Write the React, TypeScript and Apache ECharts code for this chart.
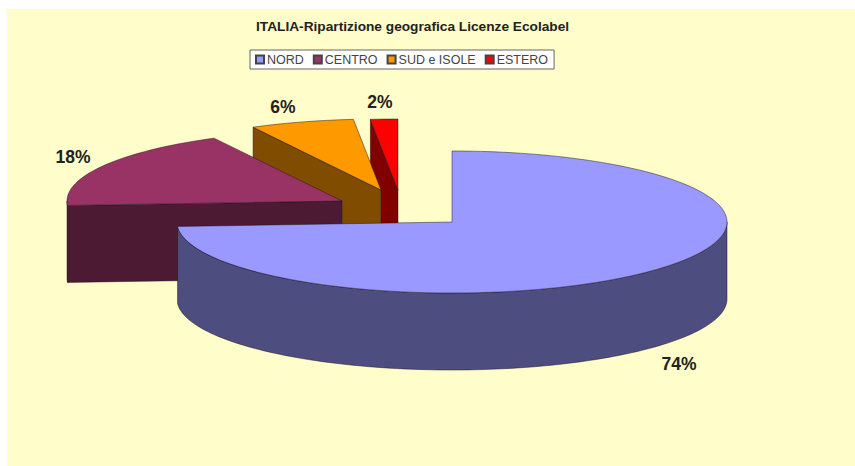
import React, { useEffect, useRef } from "react";
import * as echarts from "echarts";

const categories = ["NORD", "CENTRO", "SUD e ISOLE", "ESTERO"];
const shares = [74, 18.3, 6.1, 1.6];
const topColors = ["#9999FF", "#993366", "#FF9900", "#FF0000"];
const wallColors = ["#4D4D80", "#4D1A33", "#804D00", "#800000"];
const apexX = [452, 342, 381, 398];
const apexY = [222, 201, 190, 190];
const labelX = [679, 73, 283, 380];
const labelY = [364, 157, 107, 102];
const RX = 275;
const RY = 71;
const DEPTH = 77;
const EDGE = "rgba(30,20,30,0.6)";
const total = shares.reduce((a, b) => a + b, 0);

function startAngle(i: number) {
  let s = 0;
  for (let k = 0; k < i; k++) s += shares[k];
  return (s / total) * 360;
}

function renderSlice(index: number) {
  return () => {
    const cx = apexX[index];
    const cy = apexY[index];
    const a = startAngle(index);
    const b = a + (shares[index] / total) * 360;
    const pt = (deg: number, dz = 0): [number, number] => {
      const r = (deg * Math.PI) / 180;
      return [cx + RX * Math.sin(r), cy - RY * Math.cos(r) + dz];
    };
    const arc = (from: number, to: number, dz = 0) => {
      const out: [number, number][] = [];
      const n = Math.max(2, Math.ceil(Math.abs(to - from) / 1.5));
      for (let k = 0; k <= n; k++) out.push(pt(from + ((to - from) * k) / n, dz));
      return out;
    };
    const children: any[] = [];
    const poly = (points: [number, number][], fill: string) =>
      children.push({
        type: "polygon",
        shape: { points },
        style: { fill, stroke: EDGE, lineWidth: 0.8, lineJoin: "round" },
      });
    const sinA = Math.sin((a * Math.PI) / 180);
    const sinB = Math.sin((b * Math.PI) / 180);
    if (sinA < -1e-6) {
      poly([[cx, cy], pt(a), pt(a, DEPTH), [cx, cy + DEPTH]], wallColors[index]);
    }
    if (sinB > 1e-6) {
      poly([[cx, cy], pt(b), pt(b, DEPTH), [cx, cy + DEPTH]], wallColors[index]);
    }
    const fa = Math.max(a, 90);
    const fb = Math.min(b, 270);
    if (fb > fa) {
      poly([...arc(fa, fb), ...arc(fb, fa, DEPTH)], wallColors[index]);
    }
    poly([[cx, cy], ...arc(a, b)], topColors[index]);
    return { type: "group", children };
  };
}

export default function App() {
  const ref = useRef<HTMLDivElement>(null);
  useEffect(() => {
    document.body.style.margin = "0";
    const chart = echarts.init(ref.current!, undefined, { renderer: "svg" });
    chart.setOption({
      animation: false,
      backgroundColor: "#FFFFFF",
      title: {
        text: "ITALIA-Ripartizione geografica Licenze Ecolabel",
        left: 256,
        top: 19,
        textStyle: {
          fontFamily: "Liberation Sans",
          fontSize: 13.7,
          fontWeight: "bold",
          color: "#222222",
        },
        padding: 0,
      },
      legend: {
        left: 250,
        top: 50,
        data: categories,
        icon: "rect",
        itemWidth: 8,
        itemHeight: 8,
        itemGap: 9,
        padding: [3, 6, 3, 5],
        backgroundColor: "#FFFFFF",
        borderColor: "#666666",
        borderWidth: 1,
        selectedMode: false,
        textStyle: {
          fontFamily: "Liberation Sans",
          fontSize: 12.5,
          color: "#444444",
          padding: [1, 0, 0, -2],
        },
      },
      graphic: [
        {
          type: "rect",
          z: -10,
          silent: true,
          shape: { x: 7, y: 9, width: 848, height: 457 },
          style: { fill: "#FFFDC9" },
        },
        ...categories.map((c, i) => ({
          type: "text",
          z: 20,
          silent: true,
          x: labelX[i],
          y: labelY[i],
          style: {
            text: `${Math.round((shares[i] / total) * 100)}%`,
            x: 0,
            y: 0,
            align: "center",
            verticalAlign: "middle",
            fontFamily: "Liberation Sans",
            fontSize: 17.5,
            fontWeight: "bold",
            fill: "#222222",
          },
        })),
      ],
      series: categories.map((c, i) => ({
        type: "custom",
        name: c,
        coordinateSystem: "none",
        z: 10 - i,
        silent: true,
        itemStyle: { color: topColors[i], borderColor: "#444444", borderWidth: 0.6 },
        data: [shares[i]],
        renderItem: renderSlice(i),
      })),
    });
    return () => chart.dispose();
  }, []);
  return <div ref={ref} style={{ width: 855, height: 466 }} />;
}
